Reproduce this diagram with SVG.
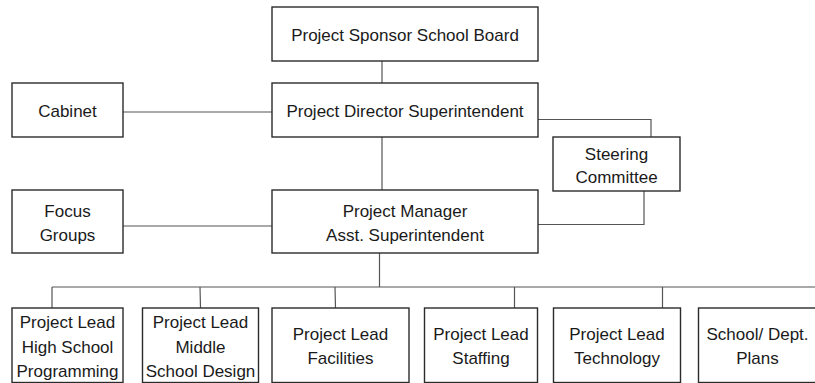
<svg xmlns="http://www.w3.org/2000/svg" width="815" height="383" viewBox="0 0 815 383">
  <style>
    .box { fill: #ffffff; stroke: #2b2b2b; stroke-width: 1.4; }
    .wire { fill: none; stroke: #555555; stroke-width: 1.2; }
    text { font-family: "Liberation Sans", Arial, sans-serif; font-size: 17px; fill: #1a1a1a; text-anchor: middle; }
  </style>
  <rect width="815" height="383" fill="#ffffff"/>

  <g id="connectors">
    <line class="wire" x1="382" y1="61" x2="382" y2="83"/>
    <line class="wire" x1="123" y1="112" x2="272" y2="112"/>
    <line class="wire" x1="382" y1="137" x2="382" y2="190"/>
    <polyline class="wire" points="538,119.5 651,119.5 651,137"/>
    <polyline class="wire" points="644,191 644,224.5 538,224.5"/>
    <line class="wire" x1="123" y1="226" x2="272" y2="226"/>
    <line class="wire" x1="379.5" y1="253" x2="379.5" y2="287"/>
    <line class="wire" x1="52" y1="287" x2="815" y2="287"/>
    <line class="wire" x1="52" y1="287" x2="52" y2="308"/>
    <line class="wire" x1="200" y1="287" x2="200.5" y2="308"/>
    <line class="wire" x1="335" y1="287" x2="335.5" y2="308"/>
    <line class="wire" x1="514.5" y1="287" x2="514.5" y2="308"/>
    <line class="wire" x1="662.5" y1="287" x2="662.5" y2="308"/>
  </g>

  <g id="sponsor">
    <rect class="box" x="272" y="7" width="266" height="54"/>
    <text x="405" y="41">Project Sponsor School Board</text>
  </g>
  <g id="director">
    <rect class="box" x="272" y="83" width="266" height="54"/>
    <text x="405" y="117">Project Director Superintendent</text>
  </g>
  <g id="cabinet">
    <rect class="box" x="12" y="83" width="111" height="54"/>
    <text x="67.5" y="117">Cabinet</text>
  </g>
  <g id="steering">
    <rect class="box" x="553" y="137" width="127" height="54"/>
    <text x="616.5" y="160">Steering</text>
    <text x="616.5" y="183">Committee</text>
  </g>
  <g id="focus">
    <rect class="box" x="12" y="190" width="111" height="63"/>
    <text x="67.5" y="217">Focus</text>
    <text x="67.5" y="241">Groups</text>
  </g>
  <g id="manager">
    <rect class="box" x="272" y="190" width="266" height="63"/>
    <text x="405" y="217">Project Manager</text>
    <text x="405" y="241">Asst. Superintendent</text>
  </g>

  <g id="lead-high-school">
    <rect class="box" x="12" y="308" width="111" height="74.5"/>
    <text x="67.5" y="328">Project Lead</text>
    <text x="67.5" y="352.5">High School</text>
    <text x="67.5" y="376.5">Programming</text>
  </g>
  <g id="lead-middle-school">
    <rect class="box" x="142.5" y="308" width="116" height="74.5"/>
    <text x="200.5" y="328">Project Lead</text>
    <text x="200.5" y="352.5">Middle</text>
    <text x="200.5" y="376.5">School Design</text>
  </g>
  <g id="lead-facilities">
    <rect class="box" x="272" y="308" width="137" height="74.5"/>
    <text x="340.5" y="340">Project Lead</text>
    <text x="340.5" y="364">Facilities</text>
  </g>
  <g id="lead-staffing">
    <rect class="box" x="424.5" y="308" width="113" height="74.5"/>
    <text x="481" y="340">Project Lead</text>
    <text x="481" y="364">Staffing</text>
  </g>
  <g id="lead-technology">
    <rect class="box" x="553.5" y="308" width="127" height="74.5"/>
    <text x="617" y="340">Project Lead</text>
    <text x="617" y="364">Technology</text>
  </g>
  <g id="school-dept-plans">
    <rect class="box" x="698.5" y="308" width="130" height="74.5"/>
    <text x="757.5" y="340">School/ Dept.</text>
    <text x="757.5" y="364">Plans</text>
  </g>
</svg>
